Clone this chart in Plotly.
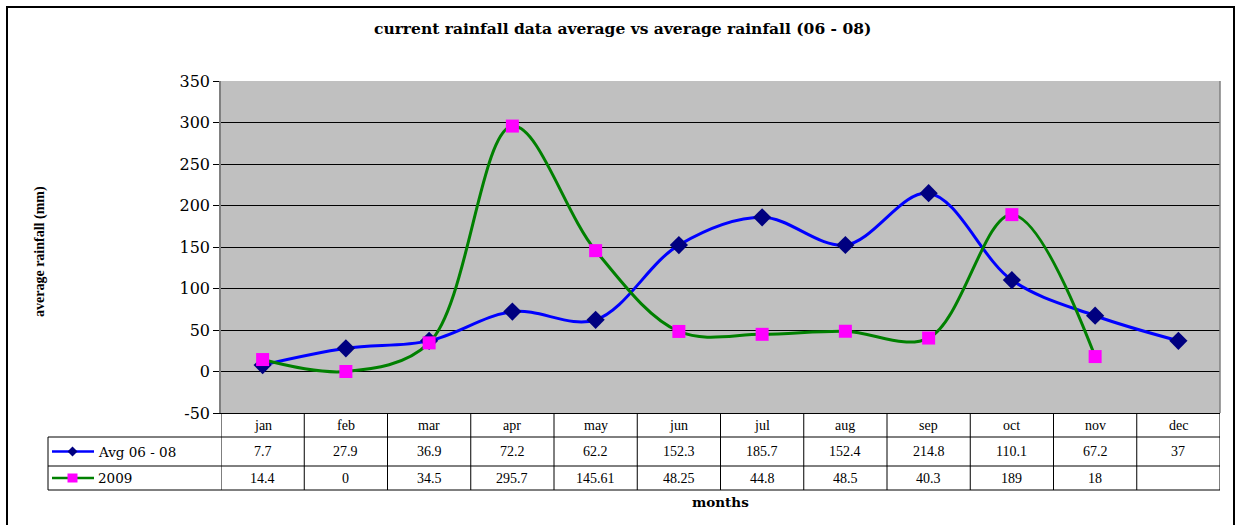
import plotly.graph_objects as go

months = ['jan', 'feb', 'mar', 'apr', 'may', 'jun', 'jul', 'aug', 'sep', 'oct', 'nov', 'dec']
avg_06_08 = [7.7, 27.9, 36.9, 72.2, 62.2, 152.3, 185.7, 152.4, 214.8, 110.1, 67.2, 37]
rain_2009 = [14.4, 0, 34.5, 295.7, 145.61, 48.25, 44.8, 48.5, 40.3, 189, 18, None]
series_names = ['Avg 06 - 08', '2009']
y_ticks = [-50, 0, 50, 100, 150, 200, 250, 300, 350]

W, H = 1239, 525
SERIF = 'Liberation Serif'
WIDE = 'DejaVu Serif'


def px_x(v):
    return v / W


def px_y(v):
    return 1 - v / H


# pixel layout of plot area and table
plot_l, plot_r, plot_t, plot_b = 221, 1220, 81, 413
row_y = [413, 437, 466, 490]
legend_l = 48

fig = go.Figure()
fig.add_trace(go.Scatter(
    x=months, y=avg_06_08, name=series_names[0], mode='lines+markers',
    line=dict(color='#0000FF', width=3, shape='spline', smoothing=1),
    marker=dict(symbol='diamond', color='#000080', size=14),
))
fig.add_trace(go.Scatter(
    x=months, y=rain_2009, name=series_names[1], mode='lines+markers',
    line=dict(color='#008000', width=3, shape='spline', smoothing=1),
    marker=dict(symbol='square', color='#FF00FF', size=13),
))

shapes = []
annotations = []

# outer chart border
shapes.append(dict(type='rect', xref='paper', yref='paper',
                   x0=px_x(7), x1=px_x(1234), y0=px_y(535), y1=px_y(7),
                   line=dict(color='black', width=2)))

# table horizontal lines
for yy in row_y[1:]:
    shapes.append(dict(type='line', xref='paper', yref='paper',
                       x0=px_x(legend_l), x1=px_x(plot_r), y0=px_y(yy), y1=px_y(yy),
                       line=dict(color='black', width=1)))
# table vertical lines between months
for i in range(len(months) + 1):
    shapes.append(dict(type='line', xref='x', yref='paper',
                       x0=i - 0.5, x1=i - 0.5, y0=px_y(row_y[0]), y1=px_y(row_y[-1]),
                       line=dict(color='black', width=1)))
shapes.append(dict(type='line', xref='paper', yref='paper',
                   x0=px_x(legend_l), x1=px_x(legend_l), y0=px_y(row_y[1]), y1=px_y(row_y[-1]),
                   line=dict(color='black', width=1)))


def fmt(v):
    return '' if v is None else f'{v:g}'


def label(text, x, y, xref='paper', size=14, family=SERIF, **kw):
    d = dict(x=x, y=y, xref=xref, yref='paper', text=text, showarrow=False,
             xanchor='center', yanchor='middle',
             font=dict(family=family, size=size, color='black'))
    d.update(kw)
    annotations.append(d)


# table text
for i, m in enumerate(months):
    label(m, m, px_y((row_y[0] + row_y[1]) / 2), xref='x')
    for r, series in enumerate([avg_06_08, rain_2009]):
        label(fmt(series[i]), m, px_y((row_y[r + 1] + row_y[r + 2]) / 2), xref='x')

# legend keys inside table
key_colors = [('#0000FF', '#000080', 'diamond'), ('#008000', '#FF00FF', 'square')]
for r, (lc, mc, sym) in enumerate(key_colors):
    cy = (row_y[r + 1] + row_y[r + 2]) / 2
    shapes.append(dict(type='line', xref='paper', yref='paper',
                       x0=px_x(52), x1=px_x(94), y0=px_y(cy), y1=px_y(cy),
                       line=dict(color=lc, width=2.5)))
    cx = 72.5
    if sym == 'diamond':
        path = (f'M {px_x(cx - 5)} {px_y(cy)} L {px_x(cx)} {px_y(cy - 5)} '
                f'L {px_x(cx + 5)} {px_y(cy)} L {px_x(cx)} {px_y(cy + 5)} Z')
        shapes.append(dict(type='path', xref='paper', yref='paper', path=path,
                           fillcolor=mc, line=dict(color=mc, width=0)))
    else:
        shapes.append(dict(type='rect', xref='paper', yref='paper',
                           x0=px_x(cx - 5), x1=px_x(cx + 5), y0=px_y(cy + 4.5), y1=px_y(cy - 4.5),
                           fillcolor=mc, line=dict(color=mc, width=0)))
    label(series_names[r], px_x(96), px_y(cy), family=WIDE, size=13.5, xanchor='left')

# titles
label('<b>current rainfall data average vs average rainfall (06 - 08)</b>',
      px_x(622), px_y(29), family=WIDE, size=15.5)
label('<b>average rainfall (mm)</b>', px_x(40), px_y(251), size=14, textangle=-90)
label('<b>months</b>', px_x(720), px_y(502), family=WIDE, size=13.5)

fig.update_layout(
    width=W, height=H,
    margin=dict(l=0, r=0, t=0, b=0),
    paper_bgcolor='white',
    plot_bgcolor='#C0C0C0',
    showlegend=False,
    shapes=shapes,
    annotations=annotations,
    font=dict(family=SERIF, size=14, color='black'),
    xaxis=dict(domain=[px_x(plot_l), px_x(plot_r)], range=[-0.5, 11.5],
               showticklabels=False, showgrid=False, zeroline=False, automargin=False,
               showline=True, linecolor='black', linewidth=1, mirror=False, ticks=''),
    yaxis=dict(domain=[px_y(plot_b), px_y(plot_t)], range=[-50, 350],
               tickvals=y_ticks, ticktext=[str(v) for v in y_ticks],
               showgrid=True, gridcolor='black', gridwidth=1, zeroline=False, automargin=False,
               showline=True, linecolor='#808080', linewidth=1.5,
               ticks='outside', ticklen=6, tickcolor='black',
               tickfont=dict(family=WIDE, size=16)),
)
# right border of plot area
fig.add_shape(type='line', xref='paper', yref='paper',
              x0=px_x(plot_r), x1=px_x(plot_r), y0=px_y(plot_b), y1=px_y(plot_t),
              line=dict(color='#808080', width=1.5))

# pin the graph to the window corner so nothing around it shifts the picture
pin = """
var gd = document.getElementById('{plot_id}');
[document.documentElement, document.body].forEach(function (el) {
    el.style.margin = '0'; el.style.padding = '0'; el.style.overflow = 'hidden';
});
gd.style.position = 'fixed'; gd.style.left = '0'; gd.style.top = '0';
"""
fig.write_html('out.html', config={'displayModeBar': False}, post_script=pin)
